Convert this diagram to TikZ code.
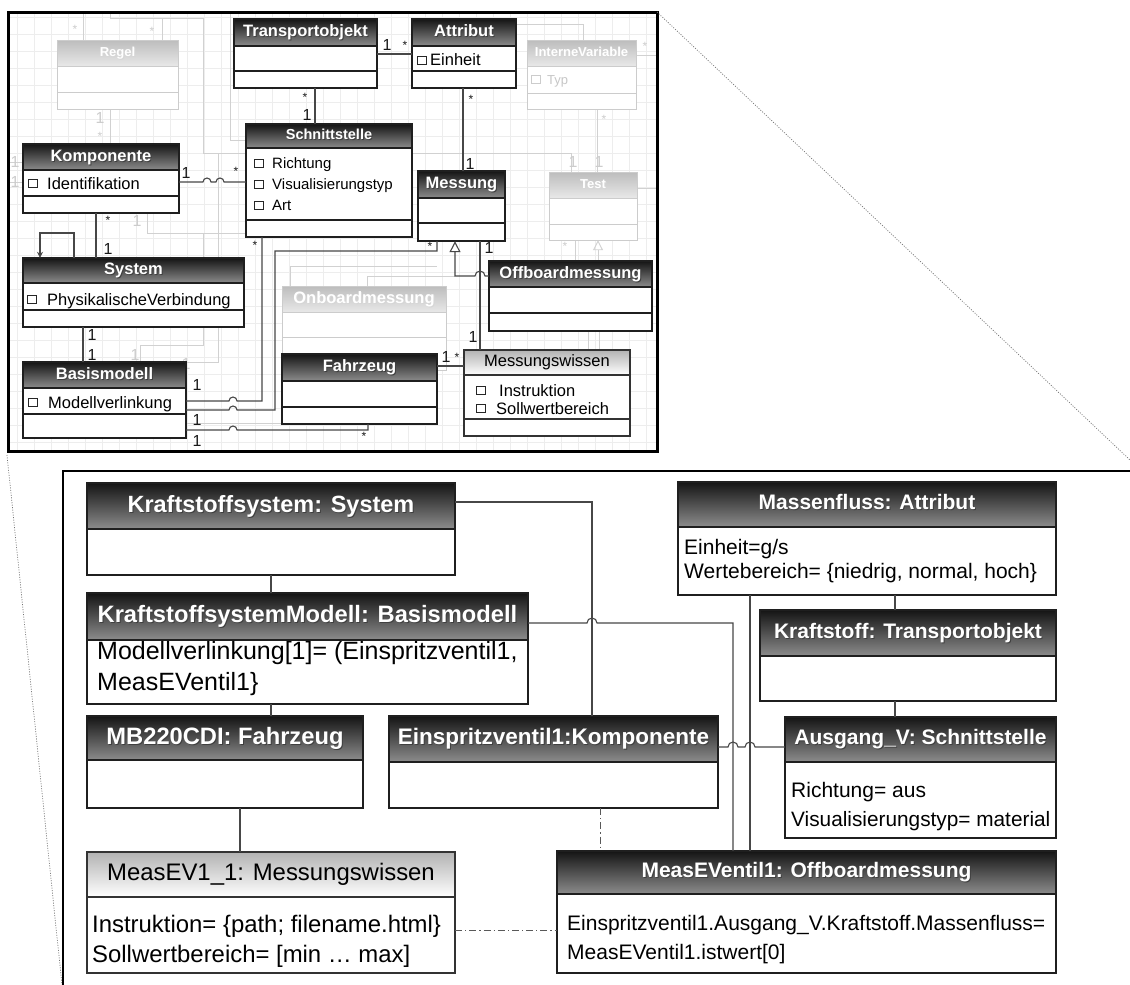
\documentclass[tikz,border=0pt]{standalone}
\usepackage{fontspec}
\setmainfont{Liberation Sans}
\usetikzlibrary{fit,arrows.meta}

\tikzset{
  hd-dark/.style={top color=black!92, bottom color=black!45},
  hd-fade/.style={top color=black!26, bottom color=black!9},
  hd-light/.style={top color=black!30, bottom color=white},
  fr-dark/.style={draw=black!88, line width=1.4pt},
  fr-fade/.style={draw=black!20, line width=1pt},
  fr-light/.style={draw=black!80, line width=1.2pt},
  tx-dark/.style={text=white, inner sep=0pt, execute at begin node=\bfseries},
  tx-fade/.style={text=white, inner sep=0pt, execute at begin node=\bfseries},
  tx-light/.style={text=black, inner sep=0pt},
  sh-dark/.style={text=black!75, inner sep=0pt, execute at begin node=\bfseries},
  sh-fade/.style={text=black!16, inner sep=0pt, execute at begin node=\bfseries},
  sh-light/.style={text opacity=0, inner sep=0pt},
  conn/.style={draw=black!72, line width=1.1pt},
  faint/.style={draw=black!18, line width=0.9pt},
  dashdot/.style={draw=black!65, line width=1pt, dash pattern=on 7pt off 3pt on 1.2pt off 3pt},
  attr/.style={anchor=base west, inner sep=0pt},
  ifont/.style={font=\fontsize{16.5}{18}\selectfont},
  sfont/.style={font=\fontsize{15}{17}\selectfont},
  mult/.style={inner sep=0pt, font=\fontsize{16}{16}\selectfont, text=black!90},
  star/.style={inner sep=0pt, font=\fontsize{12}{12}\selectfont, text=black!90},
  fmult/.style={mult, text=black!20},
  fstar/.style={star, text=black!20},
  tick/.style={draw=black!85, line width=0.9pt},
  ftick/.style={draw=black!20, line width=0.8pt},
  gridline/.style={draw=black!7, line width=0.5pt},
  leader/.style={draw=black!55, line width=0.7pt, dash pattern=on 1pt off 1.5pt},
}

% class box: name, x1, y1, x2, y2, header bottom, look, title, font size
\newcommand\umlclass[9]{%
  \node[fit={(#2,#3) (#4,#5)}, inner sep=0pt, fill=white] (#1) {};
  \shade[hd-#7] (#2,#3) rectangle (#4,#6);
  \draw[fr-#7] (#2,#3) rectangle (#4,#5) (#2,#6) -- (#4,#6);
  \node[sh-#7, font=\fontsize{#9}{#9}\selectfont, text height={#9*0.72pt}, text depth={#9*0.2pt}]
    (#1-shadow) at ({(#2+#4)/2+1},{(#3+#6)/2+1}) {#8};
  \node[tx-#7, font=\fontsize{#9}{#9}\selectfont, text height={#9*0.72pt}, text depth={#9*0.2pt}]
    (#1-title) at ({(#2+#4)/2},{(#3+#6)/2}) {#8};
}
% small attribute square
\newcommand\attrbox[3]{\draw[#1] (#2-4.5,#3-4) rectangle (#2+4.5,#3+4);}

\begin{document}
\begin{tikzpicture}[x=1pt, y=-1pt]
\useasboundingbox (0,0) rectangle (1130,985);
\fill[white] (0,0) rectangle (1130,985);

% ---------------- class model (overview) ----------------
\fill[white] (8,12) rectangle (657,451);
\draw[gridline, step=17pt] (8,12) grid (657,451);

% background associations of the greyed-out classes
\draw[faint] (83,12) -- (83,40);
\draw[faint] (110,12) -- (110,18) -- (203,18) -- (203,153) -- (246,153);
\draw[faint] (162,18) -- (162,40);
\draw[faint] (230,12) -- (230,140) -- (246,140);
\draw[faint] (110,109) -- (110,144);
\draw[faint] (147,213) -- (147,233) -- (246,233);
\draw[faint] (218,153) -- (218,362) -- (186,362);
\draw[faint] (203,233) -- (203,345) -- (140,345) -- (140,362);
\draw[faint] (412,153) -- (571,153) -- (571,172);
\draw[faint] (516,24) -- (583,24) -- (583,40);
\draw[faint] (597,109) -- (597,172);
\draw[faint] (636,55) -- (657,55);
\draw[faint] (637,188) -- (657,188);
\draw[faint] (575,240) -- (575,261);
\draw[faint] (367,286) -- (367,276) -- (455,276);
\draw[faint] (290,286) -- (290,266) -- (437,266);
\draw[faint] (588,331) -- (588,350);
\draw[faint] (599,331) -- (599,350);
\draw[faint] (186,423) -- (282,423);
\draw[faint] (23,162) -- (8,162);
\draw[faint] (23,182) -- (8,182);

\umlclass{regel}{57}{40}{178}{109}{66}{fade}{Regel}{13}
\draw[fr-fade] (57,92) -- (178,92);
\umlclass{intvar}{527}{40}{636}{109}{66}{fade}{InterneVariable}{13}
\draw[fr-fade] (527,93) -- (636,93);
\attrbox{ftick}{536}{79}
\node[attr, font=\fontsize{13}{13}\selectfont, text=black!22] (typ) at (547,84) {Typ};
\umlclass{test}{549}{172}{637}{240}{198}{fade}{Test}{13}
\draw[fr-fade] (549,224) -- (637,224);
\draw[faint, -{Triangle[open, length=10pt, width=10pt]}] (598,261) -- (598,0 |- test.south);
\umlclass{onb}{282}{286}{446}{370}{312}{fade}{Onboardmessung}{16.5}
\draw[fr-fade] (282,337) -- (446,337);

\node[fstar] (s-r1) at (75,29) {*};
\node[fstar] (s-r2) at (152,31) {*};
\node[fmult] (m-r1) at (100,118) {1};
\node[fstar] (s-r3) at (100,136) {*};
\node[fmult] (m-k1) at (15,162) {1};
\node[fmult] (m-k2) at (15,182) {1};
\node[fmult] (m-k3) at (137,221) {1};
\node[fmult] (m-b1) at (135,355) {1};
\node[fmult] (m-b2) at (186,364) {1};
\node[fmult] (m-t1) at (573,162) {1};
\node[fmult] (m-t2) at (599,162) {1};
\node[fstar] (s-t1) at (604,119) {*};
\node[fstar] (s-t2) at (645,46) {*};
\node[fstar] (s-t3) at (565,246) {*};

% classes in use
\umlclass{transp}{234}{19}{377}{88}{46}{dark}{Transportobjekt}{16.5}
\draw[fr-dark] (234,71) -- (377,71);
\umlclass{attrib}{412}{19}{516}{88}{46}{dark}{Attribut}{16.5}
\draw[fr-dark] (412,71) -- (516,71);
\attrbox{tick}{422}{60}
\node[attr, ifont] (einheit) at (430,65) {Einheit};

\umlclass{schnitt}{246}{124}{412}{237}{148}{dark}{Schnittstelle}{14.5}
\draw[fr-dark] (246,220) -- (412,220);
\attrbox{tick}{259}{163}
\attrbox{tick}{259}{184}
\attrbox{tick}{259}{205}
\node[attr, sfont] (richtung) at (272,168) {Richtung};
\node[attr, sfont] (vistyp) at (272,189) {Visualisierungstyp};
\node[attr, sfont] (art) at (272,210) {Art};

\umlclass{messung}{418}{171}{505}{241}{198}{dark}{Messung}{16.5}
\draw[fr-dark] (418,223) -- (505,223);

\umlclass{komp}{23}{144}{179}{213}{170}{dark}{Komponente}{16.5}
\draw[fr-dark] (23,196) -- (179,196);
\attrbox{tick}{33}{183}
\node[attr, ifont] (ident) at (47,189) {Identifikation};

\umlclass{system}{23}{258}{244}{327}{283}{dark}{System}{16.5}
\draw[fr-dark] (23,310) -- (244,310);
\attrbox{tick}{32}{299}
\node[attr, ifont] (physv) at (47,305) {PhysikalischeVerbindung};

\umlclass{basis}{23}{362}{186}{438}{388}{dark}{Basismodell}{16.5}
\draw[fr-dark] (23,414) -- (186,414);
\attrbox{tick}{33}{402}
\node[attr, ifont] (modv) at (48,408) {Modellverlinkung};

\umlclass{offb}{489}{261}{652}{331}{287}{dark}{Offboardmessung}{16.5}
\draw[fr-dark] (489,313) -- (652,313);

\umlclass{fahrz}{282}{354}{437}{424}{381}{dark}{Fahrzeug}{16.5}
\draw[fr-dark] (282,407) -- (437,407);

\umlclass{mwiss}{464}{350}{630}{436}{375}{light}{Messungswissen}{16.5}
\draw[fr-light] (464,419) -- (630,419);
\attrbox{tick}{481}{390}
\attrbox{tick}{481}{408}
\node[attr, ifont] (instr) at (499,396) {Instruktion};
\node[attr, ifont] (sollw) at (496,414) {Sollwertbereich};

% associations
\draw[conn] (transp.east |- 0,54) -- (attrib.west |- 0,54);
\node[mult] (m1) at (387,45) {1};
\node[star] (s1) at (405,45) {*};
\draw[conn] (315,0 |- transp.south) -- (315,0 |- schnitt.north);
\node[star] (s2) at (305,97) {*};
\node[mult] (m2) at (307,115) {1};
\draw[conn] (463,0 |- attrib.south) -- (463,0 |- messung.north);
\node[star] (s3) at (471,99) {*};
\node[mult] (m3) at (470,164) {1};
\draw[conn] (komp.east |- 0,182) -- (203,182) arc[start angle=180, end angle=0, radius=4pt]
  -- (216,182) arc[start angle=180, end angle=0, radius=4pt] -- (schnitt.west |- 0,182);
\node[mult] (m4) at (186,173) {1};
\node[star] (s4) at (236,171) {*};
\draw[conn] (96,0 |- komp.south) -- (96,0 |- system.north);
\node[star] (s5) at (108,220) {*};
\node[mult] (m5) at (108,249) {1};
\draw[conn, -{Stealth[length=6pt, width=6pt]}] (74,0 |- system.north) -- (74,233) -- (40,233) -- (40,0 |- system.north);
\draw[conn] (83,0 |- system.south) -- (83,0 |- basis.north);
\node[mult] (m6) at (92,335) {1};
\node[mult] (m7) at (92,355) {1};
\draw[conn] (basis.east |- 0,401) -- (229,401) arc[start angle=180, end angle=0, radius=4pt]
  -- (262,401) -- (262,0 |- schnitt.south);
\draw[conn] (basis.east |- 0,410) -- (229,410) arc[start angle=180, end angle=0, radius=4pt]
  -- (275,410) -- (275,251) -- (437,251) -- (437,0 |- messung.south);
\draw[conn] (basis.east |- 0,430) -- (229,430) arc[start angle=180, end angle=0, radius=4pt]
  -- (368,430) -- (368,0 |- fahrz.south);
\node[mult] (m8) at (197,385) {1};
\node[mult] (m9) at (197,420) {1};
\node[mult] (m10) at (197,441) {1};
\node[star] (s6) at (255,245) {*};
\node[star] (s7) at (430,246) {*};
\node[star] (s8) at (364,436) {*};
\draw[conn] (fahrz.east |- 0,366) -- (mwiss.west |- 0,366);
\node[mult] (m11) at (446,357) {1};
\node[star] (s9) at (457,357) {*};
\draw[conn] (480,0 |- messung.south) -- (480,0 |- mwiss.north);
\node[mult] (m12) at (489,248) {1};
\node[mult] (m13) at (473,337) {1};
\draw[conn, -{Triangle[open, length=11pt, width=11pt]}] (offb.west |- 0,276) -- (485,276)
  arc[start angle=0, end angle=180, radius=5pt] -- (455,276) -- (455,0 |- messung.south);

\draw[black, line width=3pt] (8,12) rectangle (657,451);
\coordinate (inset-ne) at (657,12);
\coordinate (inset-sw) at (7,455);

% ---------------- object model (detail) ----------------
\coordinate (detail-ne) at (1130,460);
\coordinate (detail-sw) at (62,985);
\draw[leader] (inset-ne) -- (detail-ne);
\draw[leader] (inset-sw) -- (detail-sw);
\draw[black, line width=2.5pt] (63,987) -- (63,471) -- (1132,471);

\umlclass{bksys}{87}{483}{455}{575}{529}{dark}{Kraftstoffsystem: System}{23.5}
\umlclass{bbasis}{87}{593}{528}{704}{640}{dark}{KraftstoffsystemModell: Basismodell}{23.7}
\node[attr, font=\fontsize{25}{25}\selectfont] (bbasis-a1) at (97,659) {Modellverlinkung[1]= (Einspritzventil1,};
\node[attr, font=\fontsize{25}{25}\selectfont] (bbasis-a2) at (97,690) {MeasEVentil1\}};
\umlclass{bfahrz}{87}{716}{363}{808}{760}{dark}{MB220CDI: Fahrzeug}{23.7}
\umlclass{beinsp}{389}{716}{718}{808}{762}{dark}{Einspritzventil1:Komponente}{22.5}
\umlclass{bmwiss}{87}{852}{455}{973}{897}{light}{MeasEV1\_1: Messungswissen}{23.9}
\node[attr, font=\fontsize{23.9}{24}\selectfont] (bmwiss-a1) at (92,932) {Instruktion= \{path; filename.html\}};
\node[attr, font=\fontsize{23.9}{24}\selectfont] (bmwiss-a2) at (92,962) {Sollwertbereich= [min … max]};
\umlclass{bmass}{678}{482}{1056}{595}{527}{dark}{Massenfluss: Attribut}{21}
\node[attr, font=\fontsize{21}{21}\selectfont] (bmass-a1) at (684,554) {Einheit=g/s};
\node[attr, font=\fontsize{21}{21}\selectfont] (bmass-a2) at (684,578) {Wertebereich= \{niedrig, normal, hoch\}};
\umlclass{bkraft}{760}{610}{1056}{701}{656}{dark}{Kraftstoff: Transportobjekt}{21}
\umlclass{bausg}{785}{717}{1056}{838}{762}{dark}{Ausgang\_V: Schnittstelle}{21}
\node[attr, font=\fontsize{21}{21}\selectfont] (bausg-a1) at (791,797) {Richtung= aus};
\node[attr, font=\fontsize{20.8}{21}\selectfont] (bausg-a2) at (791,826) {Visualisierungstyp= material};
\umlclass{bmeas}{557}{851}{1056}{973}{894}{dark}{MeasEVentil1: Offboardmessung}{21}
\node[attr, font=\fontsize{21}{21}\selectfont] (bmeas-a1) at (567,930) {Einspritzventil1.Ausgang\_V.Kraftstoff.Massenfluss=};
\node[attr, font=\fontsize{21}{21}\selectfont] (bmeas-a2) at (567,959) {MeasEVentil1.istwert[0]};

% links
\draw[conn] (271,0 |- bksys.south) -- (271,0 |- bbasis.north);
\draw[conn] (271,0 |- bbasis.south) -- (271,0 |- bfahrz.north);
\draw[conn] (240,0 |- bfahrz.south) -- (240,0 |- bmwiss.north);
\draw[conn] (bksys.east |- 0,502) -- (592,502) -- (592,0 |- beinsp.north);
\draw[conn] (bbasis.east |- 0,623) -- (587,623) arc[start angle=180, end angle=0, radius=5pt]
  -- (733,623) -- (733,0 |- bmeas.north);
\draw[conn] (750,0 |- bmass.south) -- (750,0 |- bmeas.north);
\draw[conn] (895,0 |- bmass.south) -- (895,0 |- bkraft.north);
\draw[conn] (895,0 |- bkraft.south) -- (895,0 |- bausg.north);
\draw[conn] (beinsp.east |- 0,747) -- (728,747) arc[start angle=180, end angle=0, radius=5pt]
  -- (745,747) arc[start angle=180, end angle=0, radius=5pt] -- (bausg.west |- 0,747);
\draw[dashdot] (600,0 |- beinsp.south) -- (600,0 |- bmeas.north);
\draw[dashdot] (bmwiss.east |- 0,930) -- (bmeas.west |- 0,930);
\end{tikzpicture}
\end{document}
